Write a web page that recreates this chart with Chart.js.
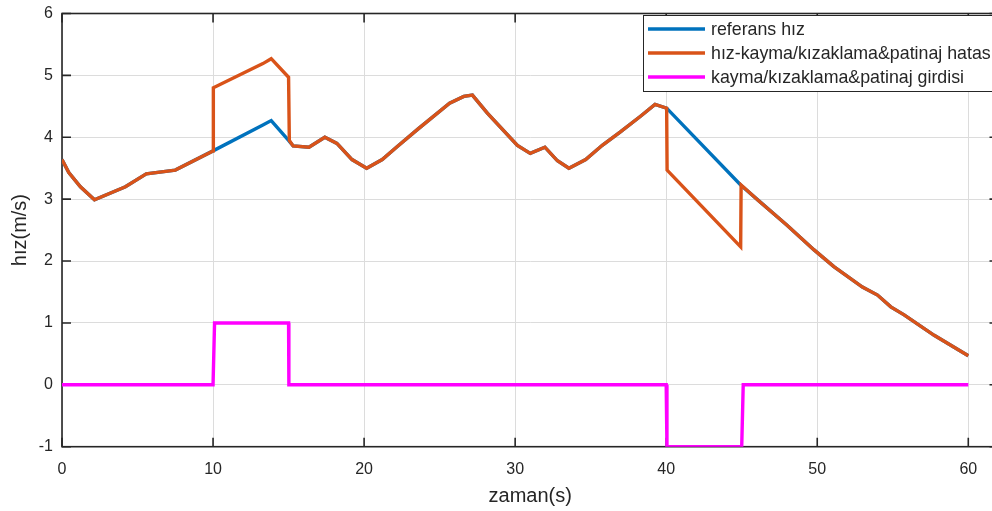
<!DOCTYPE html>
<html>
<head>
<meta charset="utf-8">
<script src="https://cdn.jsdelivr.net/npm/chart.js@4/dist/chart.umd.min.js"></script>
<style>
  html, body { margin: 0; padding: 0; background: #fff; overflow: hidden; }
  #wrap { width: 1010px; height: 511px; }
</style>
</head>
<body>
<div id="wrap"><canvas id="speed" width="1010" height="511"></canvas></div>
<script>
"use strict";

// reference speed profile (s, m/s)
const refTime = [0, 0.45, 1.22, 2.15, 4.2, 5.58, 7.5, 10.0, 13.3, 13.85, 15.0, 15.3, 16.35, 17.4, 18.2,
  19.2, 20.17, 21.2, 22.2, 23.6, 25.66, 26.6, 27.17, 28.16, 30.15, 31.0, 31.97, 32.8, 33.56, 34.67,
  35.77, 36.99, 38.3, 39.26, 40.03, 44.93, 46.1, 48.0, 49.79, 51.1, 52.99, 53.99, 54.87, 55.75, 57.74, 60.0];
const refSpeed = [3.64, 3.43, 3.2, 2.99, 3.2, 3.41, 3.47, 3.78, 4.2, 4.27, 3.95, 3.86, 3.84, 4.0, 3.9,
  3.64, 3.5, 3.64, 3.85, 4.14, 4.55, 4.66, 4.68, 4.39, 3.87, 3.74, 3.84, 3.62, 3.5, 3.64,
  3.87, 4.09, 4.34, 4.53, 4.47, 3.23, 2.98, 2.58, 2.18, 1.91, 1.58, 1.45, 1.26, 1.13, 0.8, 0.47];

// speed with slip / skid error applied
const errTime = [0, 0.45, 1.22, 2.15, 4.2, 5.58, 7.5, 10.0, 10.02, 13.3, 13.85, 15.0, 15.05, 15.3, 16.35, 17.4, 18.2,
  19.2, 20.17, 21.2, 22.2, 23.6, 25.66, 26.6, 27.17, 28.16, 30.15, 31.0, 31.97, 32.8, 33.56, 34.67,
  35.77, 36.99, 38.3, 39.26, 40.03, 40.06, 44.93, 44.96, 46.1, 48.0, 49.79, 51.1, 52.99, 53.99, 54.87, 55.75, 57.74, 60.0];
const errSpeed = [3.64, 3.43, 3.2, 2.99, 3.2, 3.41, 3.47, 3.78, 4.8, 5.19, 5.27, 4.97, 3.95, 3.86, 3.84, 4.0, 3.9,
  3.64, 3.5, 3.64, 3.85, 4.14, 4.55, 4.66, 4.68, 4.39, 3.87, 3.74, 3.84, 3.62, 3.5, 3.64,
  3.87, 4.09, 4.34, 4.53, 4.47, 3.47, 2.23, 3.23, 2.98, 2.58, 2.18, 1.91, 1.58, 1.45, 1.26, 1.13, 0.8, 0.47];

// slip input signal
const inTime = [0, 10.0, 10.1, 15.0, 15.02, 40.0, 40.05, 45.0, 45.1, 60.0];
const inValue = [0, 0, 1, 1, 0, 0, -1, -1, 0, 0];

const xTicks = [0, 10, 20, 30, 40, 50, 60];
const yTicks = [-1, 0, 1, 2, 3, 4, 5, 6];

const labels = ["referans hız", "hız-kayma/kızaklama&patinaj hatası", "kayma/kızaklama&patinaj girdisi"];
const colors = ["#0072BD", "#D95319", "#FF00FF"];

const FONT = '"Liberation Sans", Arial, sans-serif';
const INK = "#262626";

const pts = (xs, ys) => xs.map((x, i) => ({ x, y: ys[i] }));

// later series are painted over earlier ones
function lineSet(i, data) {
  return {
    label: labels[i], data, borderColor: colors[i], backgroundColor: colors[i],
    borderWidth: 3.4, pointRadius: 0, tension: 0, fill: false, order: 10 - i,
  };
}

// box, inward ticks (drawn under the data)
const frame = {
  id: "frame",
  beforeDatasetsDraw(chart) {
    const { ctx, chartArea: a, scales: { x, y } } = chart;
    const tl = 9;
    ctx.save();
    ctx.strokeStyle = INK;
    ctx.lineWidth = 1.6;
    ctx.strokeRect(a.left, a.top, a.right - a.left, a.bottom - a.top);
    ctx.beginPath();
    xTicks.forEach((v) => {
      const px = x.getPixelForValue(v);
      ctx.moveTo(px, a.bottom); ctx.lineTo(px, a.bottom - tl);
      ctx.moveTo(px, a.top); ctx.lineTo(px, a.top + tl);
    });
    yTicks.forEach((v) => {
      const py = y.getPixelForValue(v);
      ctx.moveTo(a.left, py); ctx.lineTo(a.left + tl, py);
      ctx.moveTo(a.right, py); ctx.lineTo(a.right - tl, py);
    });
    ctx.stroke();
    ctx.restore();
  },
};

// boxed legend in the upper right corner
const boxLegend = {
  id: "boxLegend",
  afterDraw(chart) {
    const { ctx } = chart;
    const left = 643, top = 15, rowH = 24, sample = 57;
    ctx.save();
    ctx.font = `17.8px ${FONT}`;
    const textX = left + 5 + sample + 6;
    const w = Math.max(...labels.map((t) => ctx.measureText(t).width)) + (textX - left) + 8;
    const h = rowH * labels.length + 4;
    ctx.fillStyle = "#fff";
    ctx.fillRect(left, top, w, h);
    ctx.strokeStyle = INK;
    ctx.lineWidth = 1;
    ctx.strokeRect(left + 0.5, top + 0.5, w, h);
    ctx.textBaseline = "middle";
    labels.forEach((t, i) => {
      const cy = top + 14 + i * rowH;
      ctx.strokeStyle = colors[i];
      ctx.lineWidth = 3.4;
      ctx.beginPath();
      ctx.moveTo(left + 5, cy); ctx.lineTo(left + 5 + sample, cy);
      ctx.stroke();
      ctx.fillStyle = INK;
      ctx.fillText(t, textX, cy + 1);
    });
    ctx.restore();
  },
};

new Chart(document.getElementById("speed"), {
  type: "line",
  data: {
    datasets: [
      lineSet(0, pts(refTime, refSpeed)),
      lineSet(1, pts(errTime, errSpeed)),
      lineSet(2, pts(inTime, inValue)),
    ],
  },
  options: {
    responsive: false,
    animation: false,
    layout: { padding: { top: 13.5, right: 11.5, bottom: 0, left: 0 } },
    plugins: { legend: { display: false }, tooltip: { enabled: false } },
    scales: {
      x: {
        type: "linear", min: 0, max: 62,
        afterFit: (s) => { s.height = 64.3; s.paddingLeft = 0; s.paddingRight = 0; },
        grid: { color: "#dcdcdc", lineWidth: 1, drawTicks: false },
        border: { display: false },
        ticks: { stepSize: 10, includeBounds: false, padding: 13, color: INK, font: { family: FONT, size: 16 } },
        title: { display: true, text: "zaman(s)", color: INK, font: { family: FONT, size: 20 }, padding: { top: 0, bottom: 3 } },
      },
      y: {
        type: "linear", min: -1, max: 6,
        afterFit: (s) => { s.width = 62; s.paddingTop = 0; s.paddingBottom = 0; },
        grid: { color: "#dcdcdc", lineWidth: 1, drawTicks: false },
        border: { display: false },
        ticks: { stepSize: 1, padding: 9, color: INK, font: { family: FONT, size: 16 } },
        title: { display: true, text: "hız(m/s)", color: INK, font: { family: FONT, size: 20 }, padding: { top: 8, bottom: 0 } },
      },
    },
  },
  plugins: [frame, boxLegend],
});
</script>
</body>
</html>
